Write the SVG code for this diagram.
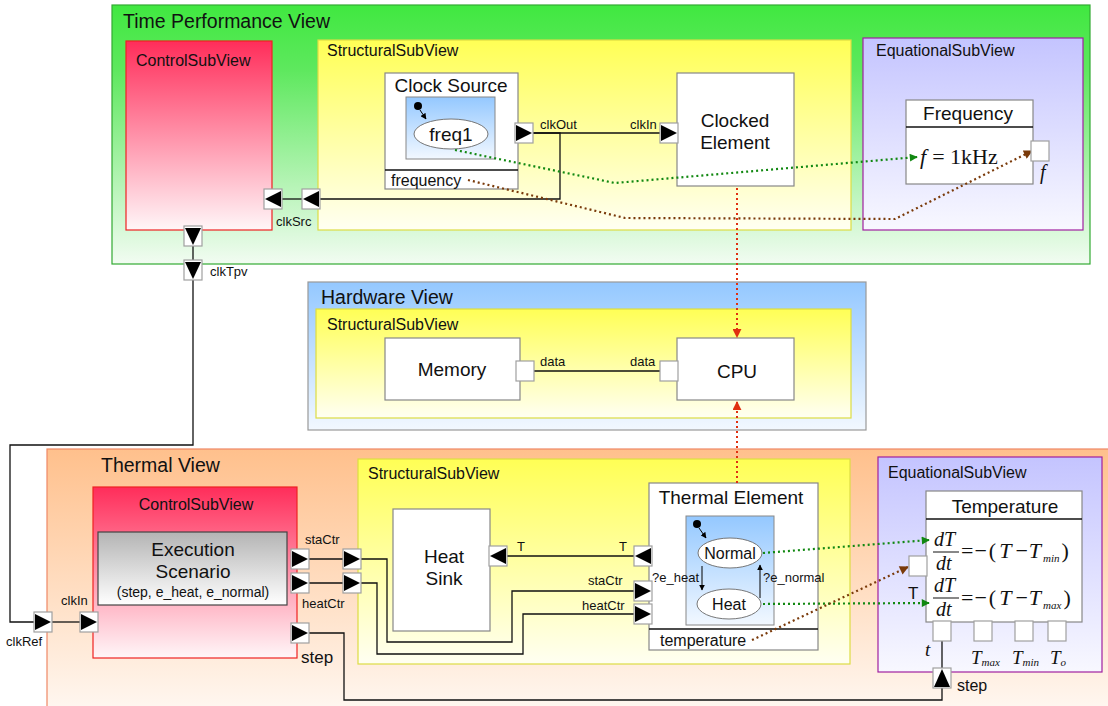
<svg xmlns="http://www.w3.org/2000/svg" width="1108" height="706" viewBox="0 0 1108 706">
<defs>
<linearGradient id="gGreen" x1="0" y1="0" x2="0" y2="1"><stop offset="0" stop-color="#40e840"/><stop offset="0.25" stop-color="#5ee85e"/><stop offset="1" stop-color="#f2fcf2"/></linearGradient>
<linearGradient id="gRed" x1="0" y1="0" x2="0" y2="1"><stop offset="0" stop-color="#ff2d5a"/><stop offset="1" stop-color="#fff6f8"/></linearGradient>
<linearGradient id="gYellow" x1="0" y1="0" x2="0" y2="1"><stop offset="0" stop-color="#ffff55"/><stop offset="1" stop-color="#fffff2"/></linearGradient>
<linearGradient id="gPurple" x1="0" y1="0" x2="0" y2="1"><stop offset="0" stop-color="#c4c4ff"/><stop offset="1" stop-color="#f8f8ff"/></linearGradient>
<linearGradient id="gBlue" x1="0" y1="0" x2="0" y2="1"><stop offset="0" stop-color="#94c8ff"/><stop offset="1" stop-color="#f2f8ff"/></linearGradient>
<linearGradient id="gOrange" x1="0" y1="0" x2="0" y2="1"><stop offset="0" stop-color="#ffc08c"/><stop offset="1" stop-color="#fff8f2"/></linearGradient>
<linearGradient id="gGray" x1="0" y1="0" x2="0" y2="1"><stop offset="0" stop-color="#b4b4b4"/><stop offset="1" stop-color="#ffffff"/></linearGradient>
<marker id="mGreen" viewBox="0 0 10 10" refX="9" refY="5" markerWidth="9" markerHeight="8" markerUnits="userSpaceOnUse" orient="auto"><path d="M0,0 L10,5 L0,10 z" fill="#118811"/></marker>
<marker id="mBrown" viewBox="0 0 10 10" refX="9" refY="5" markerWidth="10" markerHeight="9" markerUnits="userSpaceOnUse" orient="auto"><path d="M0,0 L10,5 L0,10 z" fill="#7a3a0a"/></marker>
<marker id="mRed" viewBox="0 0 10 10" refX="9" refY="5" markerWidth="9" markerHeight="9" markerUnits="userSpaceOnUse" orient="auto"><path d="M0,0 L10,5 L0,10 z" fill="#e03010"/></marker>
<marker id="mBlack" viewBox="0 0 10 10" refX="9" refY="5" markerWidth="6" markerHeight="6" markerUnits="userSpaceOnUse" orient="auto"><path d="M0,0 L10,5 L0,10 z" fill="#000"/></marker>
<g id="pR"><rect x="0" y="0" width="18" height="20" class="port"/><polygon points="1,2 17,10 1,18" fill="#000"/></g>
<g id="pL"><rect x="0" y="0" width="18" height="20" class="port"/><polygon points="17,2 1,10 17,18" fill="#000"/></g>
<g id="pD"><rect x="0" y="0" width="18" height="20" class="port"/><polygon points="1,2 17,2 9,19" fill="#000"/></g>
<g id="pU"><rect x="0" y="0" width="18" height="20" class="port"/><polygon points="1,19 17,19 9,1" fill="#000"/></g>
<g id="pE"><rect x="0" y="0" width="18" height="20" class="port"/></g>
</defs>
<style>
text{font-family:"Liberation Sans",Arial,sans-serif;fill:#111}
.view{font-size:19.5px}
.sub{font-size:16px}
.node{font-size:19px}
.lbl{font-size:13px}
.math{font-family:"Liberation Serif","Times New Roman",serif;font-style:italic}
.mr{font-family:"Liberation Serif","Times New Roman",serif}
.port{fill:#fff;stroke:#a0a0a0;stroke-width:1.2}
.box{fill:#fff;stroke:#888;stroke-width:1.2}
.wire{fill:none;stroke:#111;stroke-width:1.3}
.dg{fill:none;stroke:#118811;stroke-width:2.2;stroke-dasharray:2 3;marker-end:url(#mGreen)}
.db{fill:none;stroke:#7a3a0a;stroke-width:2.2;stroke-dasharray:2 3;marker-end:url(#mBrown)}
.dr{fill:none;stroke:#e03010;stroke-width:2;stroke-dasharray:2 3;marker-end:url(#mRed)}
.st{fill:#fff;stroke:#777;stroke-width:1}
.tr{fill:none;stroke:#000;stroke-width:1;marker-end:url(#mBlack)}
</style>

<!-- Views -->
<g id="timePerformanceView">
<rect x="112" y="5" width="978" height="259" fill="url(#gGreen)" stroke="#33aa33" stroke-width="1.2"/>
<text class="view" x="123" y="28">Time Performance View</text>
</g>
<g id="tpvControl">
<rect x="126" y="41" width="146" height="189" fill="url(#gRed)" stroke="#ee2222" stroke-width="1.2"/>
<text class="sub" x="136" y="66">ControlSubView</text>
</g>
<g id="tpvStructural">
<rect x="318" y="40" width="533" height="190" fill="url(#gYellow)" stroke="#dddd44" stroke-width="1.2"/>
<text class="sub" x="327" y="56">StructuralSubView</text>
</g>
<g id="tpvEquational">
<rect x="863" y="38" width="220" height="192" fill="url(#gPurple)" stroke="#a020a0" stroke-width="1.2"/>
<text class="sub" x="876" y="56">EquationalSubView</text>
</g>

<g id="hardwareView">
<rect x="308" y="282" width="558" height="148" fill="url(#gBlue)" stroke="#999" stroke-width="1.2"/>
<text class="view" x="321" y="304">Hardware View</text>
</g>
<g id="hwStructural">
<rect x="316" y="309" width="535" height="109" fill="url(#gYellow)" stroke="#dddd44" stroke-width="1.2"/>
<text class="sub" x="327" y="330">StructuralSubView</text>
</g>

<g id="thermalView">
<rect x="47" y="449" width="1075" height="265" fill="url(#gOrange)" stroke="#ee8866" stroke-width="1.2"/>
<text class="view" x="101" y="472">Thermal View</text>
</g>
<g id="thControl">
<rect x="93" y="487" width="204" height="171" fill="url(#gRed)" stroke="#ee2222" stroke-width="1.2"/>
<text class="sub" x="196" y="510" text-anchor="middle">ControlSubView</text>
</g>
<g id="thStructural">
<rect x="358" y="459" width="492" height="205" fill="url(#gYellow)" stroke="#dddd44" stroke-width="1.2"/>
<text class="sub" x="368" y="479">StructuralSubView</text>
</g>
<g id="thEquational">
<rect x="878" y="457" width="224" height="215" fill="url(#gPurple)" stroke="#a020a0" stroke-width="1.2"/>
<text class="sub" x="888" y="478">EquationalSubView</text>
</g>

<!-- Nodes -->
<g id="clockSource">
<rect class="box" x="385" y="73" width="133" height="116"/>
<text class="node" x="451" y="92" text-anchor="middle">Clock Source</text>
<rect x="406" y="97" width="89" height="62" fill="url(#gBlue)" stroke="#888" stroke-width="1"/>
<circle cx="418" cy="106" r="4" fill="#000"/>
<path class="tr" d="M420,110 L426,119"/>
<ellipse class="st" cx="451" cy="134" rx="37" ry="15"/>
<text x="451" y="141" font-size="19" text-anchor="middle">freq1</text>
<line x1="385" y1="170" x2="518" y2="170" stroke="#111" stroke-width="1.3"/>
<text x="391" y="186" font-size="16">frequency</text>
</g>
<g id="clockedElement">
<rect class="box" x="677" y="73" width="117" height="113"/>
<text class="node" x="735" y="127" text-anchor="middle">Clocked</text>
<text class="node" x="735" y="149" text-anchor="middle">Element</text>
</g>
<g id="frequency">
<rect class="box" x="906" y="100" width="127" height="84"/>
<text class="node" x="968" y="120" text-anchor="middle">Frequency</text>
<line x1="906" y1="127" x2="1033" y2="127" stroke="#111" stroke-width="1.3"/>
<text x="920" y="164" font-size="22"><tspan class="math">f</tspan><tspan class="mr" dx="6">= 1kHz</tspan></text>
</g>
<g id="memory">
<rect class="box" x="385" y="338" width="135" height="62"/>
<text class="node" x="452" y="376" text-anchor="middle">Memory</text>
</g>
<g id="cpu">
<rect class="box" x="677" y="338" width="117" height="62"/>
<text class="node" x="737" y="378" text-anchor="middle">CPU</text>
</g>
<g id="executionScenario">
<rect x="98" y="532" width="189" height="73" fill="url(#gGray)" stroke="#444" stroke-width="1.2"/>
<text class="node" x="193" y="556" text-anchor="middle">Execution</text>
<text class="node" x="193" y="578" text-anchor="middle">Scenario</text>
<text x="193" y="597" font-size="14" text-anchor="middle">(step, e_heat, e_normal)</text>
</g>
<g id="heatSink">
<rect class="box" x="393" y="509" width="97" height="122"/>
<text class="node" x="444" y="563" text-anchor="middle">Heat</text>
<text class="node" x="444" y="585" text-anchor="middle">Sink</text>
</g>
<g id="thermalElement">
<rect class="box" x="649" y="483" width="169" height="167"/>
<text class="node" x="731" y="504" text-anchor="middle">Thermal Element</text>
<rect x="686" y="516" width="88" height="109" fill="url(#gBlue)" stroke="#888" stroke-width="1"/>
<circle cx="697" cy="524" r="4" fill="#000"/>
<path class="tr" d="M699,528 L706,538"/>
<ellipse class="st" cx="730" cy="553" rx="32" ry="15"/>
<text x="730" y="559" font-size="16" text-anchor="middle">Normal</text>
<ellipse class="st" cx="729" cy="604" rx="32" ry="15"/>
<text x="729" y="610" font-size="16" text-anchor="middle">Heat</text>
<path class="tr" d="M702,566 L702,590"/>
<path class="tr" d="M760,598 L760,565"/>
<text class="lbl" x="652" y="582">?e_heat</text>
<text class="lbl" x="763" y="582">?e_normal</text>
<line x1="649" y1="629" x2="818" y2="629" stroke="#111" stroke-width="1.3"/>
<text x="660" y="646" font-size="16">temperature</text>
</g>
<g id="temperature">
<rect class="box" x="926" y="491" width="156" height="131"/>
<text class="node" x="1005" y="513" text-anchor="middle">Temperature</text>
<line x1="926" y1="519" x2="1082" y2="519" stroke="#111" stroke-width="1.3"/>
<text class="math" x="934" y="546" font-size="20">dT</text>
<line x1="933" y1="552" x2="959" y2="552" stroke="#111" stroke-width="1"/>
<text class="math" x="936" y="570" font-size="20">dt</text>
<text class="mr" x="961" y="558" font-size="22">=<tspan dx="1">−</tspan><tspan dx="2">(</tspan><tspan class="math" dx="3">T</tspan><tspan dx="4">−</tspan><tspan class="math" dx="1">T</tspan><tspan class="math" font-size="11" dy="4" dx="2">min</tspan><tspan dy="-4" dx="2">)</tspan></text>
<text class="math" x="934" y="592" font-size="20">dT</text>
<line x1="933" y1="598" x2="959" y2="598" stroke="#111" stroke-width="1"/>
<text class="math" x="936" y="616" font-size="20">dt</text>
<text class="mr" x="961" y="605" font-size="22">=<tspan dx="1">−</tspan><tspan dx="2">(</tspan><tspan class="math" dx="3">T</tspan><tspan dx="4">−</tspan><tspan class="math" dx="1">T</tspan><tspan class="math" font-size="11" dy="4" dx="2">max</tspan><tspan dy="-4" dx="2">)</tspan></text>
</g>

<!-- Connectors -->
<g id="connectors">
<path class="wire" d="M533,133 L660,133"/>
<path class="wire" d="M533,133 L560,133 L560,199 L320,199"/>
<path class="wire" d="M302,199 L282,199"/>
<path class="wire" d="M193,246 L193,260"/>
<path class="wire" d="M193,280 L193,445 L10,445 L10,622 L34,622"/>
<path class="wire" d="M52,622 L80,622"/>
<path class="wire" d="M534,371 L660,371"/>
<path class="wire" d="M309,559 L343,559"/>
<path class="wire" d="M309,583 L343,583"/>
<path class="wire" d="M361,559 L387,559 L387,642 L512,642 L512,591 L634,591"/>
<path class="wire" d="M361,583 L377,583 L377,654 L523,654 L523,614 L634,614"/>
<path class="wire" d="M507,556 L634,556"/>
<path class="wire" d="M309,633 L344,633 L344,700 L942,700 L942,688"/>
<path class="wire" d="M942,668 L942,641"/>
<path class="dg" d="M455,150 L615,183 L917,157"/>
<path class="db" d="M468,180 L625,218 L895,219 L1032,151"/>
<path class="dr" d="M737,188 L737,337"/>
<path class="dr" d="M737,483 L737,402"/>
<path class="dg" d="M763,553 L929,540"/>
<path class="dg" d="M763,604 L929,603"/>
<path class="db" d="M752,640 L908,567"/>
</g>

<!-- Ports -->
<g id="ports">
<use href="#pR" x="515" y="123"/>
<use href="#pR" x="660" y="123"/>
<use href="#pL" x="302" y="189"/>
<use href="#pL" x="264" y="189"/>
<use href="#pD" x="184" y="226"/>
<use href="#pD" x="184" y="260"/>
<use href="#pR" x="34" y="612"/>
<use href="#pR" x="80" y="612"/>
<use href="#pE" x="516" y="361"/>
<use href="#pE" x="660" y="361"/>
<use href="#pR" x="291" y="549"/>
<use href="#pR" x="291" y="573"/>
<use href="#pR" x="291" y="623"/>
<use href="#pR" x="343" y="549"/>
<use href="#pR" x="343" y="573"/>
<use href="#pL" x="489" y="546"/>
<use href="#pL" x="634" y="546"/>
<use href="#pR" x="634" y="581"/>
<use href="#pR" x="634" y="604"/>
<use href="#pE" x="1031" y="141"/>
<use href="#pE" x="909" y="556"/>
<use href="#pE" x="933" y="621"/>
<use href="#pE" x="974" y="621"/>
<use href="#pE" x="1015" y="621"/>
<use href="#pE" x="1048" y="621"/>
<use href="#pU" x="933" y="668"/>
</g>

<!-- Port labels -->
<g id="labels">
<text class="lbl" x="540" y="129">clkOut</text>
<text class="lbl" x="630" y="129">clkIn</text>
<text class="lbl" x="276" y="226">clkSrc</text>
<text class="lbl" x="210" y="276">clkTpv</text>
<text class="lbl" x="61" y="605">clkIn</text>
<text class="lbl" x="6" y="646">clkRef</text>
<text class="lbl" x="540" y="366">data</text>
<text class="lbl" x="630" y="366">data</text>
<text class="lbl" x="305" y="544">staCtr</text>
<text class="lbl" x="302" y="608">heatCtr</text>
<text x="301" y="663" font-size="17">step</text>
<text class="lbl" x="517" y="551">T</text>
<text class="lbl" x="619" y="551">T</text>
<text class="lbl" x="588" y="585">staCtr</text>
<text class="lbl" x="582" y="610">heatCtr</text>
<text x="957" y="691" font-size="16">step</text>
<text x="908" y="599" font-size="17">T</text>
<text class="math" x="1040" y="179" font-size="20">f</text>
<text class="math" x="925" y="656" font-size="19">t</text>
<text class="math" x="971" y="664" font-size="19">T<tspan font-size="11" dy="2">max</tspan></text>
<text class="math" x="1012" y="664" font-size="19">T<tspan font-size="11" dy="2">min</tspan></text>
<text class="math" x="1050" y="664" font-size="19">T<tspan font-size="11" dy="2">o</tspan></text>
</g>
</svg>
